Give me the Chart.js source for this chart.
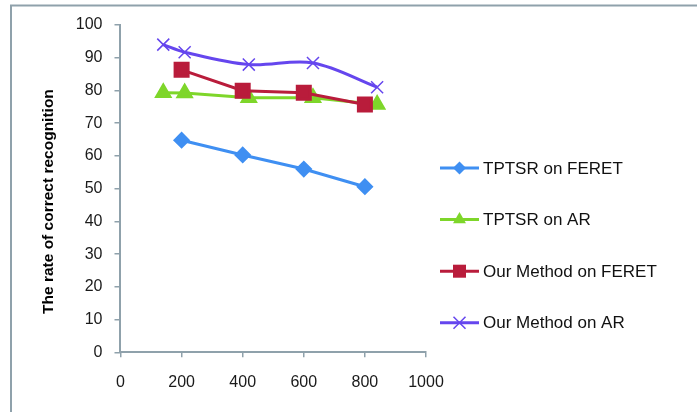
<!DOCTYPE html>
<html>
<head>
<meta charset="utf-8">
<script src="https://cdn.jsdelivr.net/npm/chart.js@4.4.1/dist/chart.umd.min.js"></script>
<style>
  html, body { margin: 0; padding: 0; background: #fff; }
  #wrap { width: 697px; height: 412px; position: relative; }
</style>
</head>
<body>
<div id="wrap"><canvas id="rateChart"></canvas></div>
<script>
// values
const seriesNames = ["TPTSR on FERET", "TPTSR on AR", "Our Method on FERET", "Our Method on AR"];
const feretX = [200, 400, 600, 800];
const tptsrFeret = [64.8, 60.3, 56.0, 50.6];
const arX = [140, 210, 420, 630, 840];
const tptsrAr = [79.3, 79.2, 77.8, 77.8, 75.7];
const oursFeret = [86.3, 79.9, 79.3, 75.7];
const oursAr = [94.0, 91.7, 87.9, 88.4, 81.0];
const xTicks = [0, 200, 400, 600, 800, 1000];
const yTicks = [0, 10, 20, 30, 40, 50, 60, 70, 80, 90, 100];

const axisColor = "#8fa1ab";
const fontFam = "'Liberation Sans', Arial, sans-serif";

function pts(xs, ys) {
    return xs.map((x, i) => ({ x: x, y: ys[i] }));
}

// little marker painter used by the legend
function drawMarker(ctx, style, x, y, r, color) {
    ctx.save();
    ctx.fillStyle = color;
    ctx.strokeStyle = color;
    ctx.beginPath();
    if (style === "rectRot") {
        ctx.moveTo(x, y - r); ctx.lineTo(x + r, y); ctx.lineTo(x, y + r); ctx.lineTo(x - r, y);
        ctx.closePath(); ctx.fill();
    } else if (style === "triangle") {
        const w = r * Math.sin(Math.PI / 3);
        ctx.moveTo(x, y - r); ctx.lineTo(x + w, y + r / 2); ctx.lineTo(x - w, y + r / 2);
        ctx.closePath(); ctx.fill();
    } else if (style === "rect") {
        const s = r * Math.SQRT1_2;
        ctx.rect(x - s, y - s, 2 * s, 2 * s); ctx.fill();
    } else if (style === "crossRot") {
        const s = r * Math.SQRT1_2;
        ctx.lineWidth = 1.5;
        ctx.moveTo(x - s, y - s); ctx.lineTo(x + s, y + s);
        ctx.moveTo(x + s, y - s); ctx.lineTo(x - s, y + s);
        ctx.stroke();
    }
    ctx.restore();
}

const sideLegend = {
    id: "sideLegend",
    afterDraw(chart) {
        const ctx = chart.ctx;
        chart.data.datasets.forEach((ds, i) => {
            const y = 168 + i * 51.6;
            ctx.save();
            ctx.strokeStyle = ds.borderColor;
            ctx.lineWidth = 3;
            ctx.beginPath();
            ctx.moveTo(440, y);
            ctx.lineTo(479, y);
            ctx.stroke();
            ctx.restore();
            drawMarker(ctx, ds.pointStyle, 459.5, y, ds.pointRadius, ds.borderColor);
            ctx.save();
            ctx.fillStyle = "#111";
            ctx.font = "17px " + fontFam;
            ctx.textBaseline = "middle";
            ctx.fillText(seriesNames[i], 483, y + 1);
            ctx.restore();
        });
    }
};

const frame = {
    id: "frame",
    beforeDraw(chart) {
        const ctx = chart.ctx;
        ctx.save();
        ctx.strokeStyle = axisColor;
        ctx.lineWidth = 2;
        ctx.beginPath();
        ctx.moveTo(11, 412);
        ctx.lineTo(11, 5.5);
        ctx.lineTo(697, 5.5);
        ctx.stroke();
        ctx.restore();
    }
};

new Chart(document.getElementById("rateChart"), {
    type: "line",
    data: {
        datasets: [
            {
                label: seriesNames[0], data: pts(feretX, tptsrFeret),
                borderColor: "#3f8ff2", backgroundColor: "#3f8ff2",
                pointStyle: "rectRot", pointRadius: 6.5, borderWidth: 3, order: 4
            },
            {
                label: seriesNames[1], data: pts(arX, tptsrAr),
                borderColor: "#7ed62a", backgroundColor: "#7ed62a",
                pointStyle: "triangle", pointRadius: 7.5, borderWidth: 3, order: 3
            },
            {
                label: seriesNames[2], data: pts(feretX, oursFeret),
                borderColor: "#b91c3b", backgroundColor: "#b91c3b",
                pointStyle: "rect", pointRadius: 9.2, borderWidth: 3, order: 2
            },
            {
                label: seriesNames[3], data: pts(arX, oursAr),
                borderColor: "#6546ee", backgroundColor: "#6546ee",
                pointStyle: "crossRot", pointRadius: 8.5, borderWidth: 3,
                pointBorderWidth: 1.5, tension: 0.35, order: 1
            }
        ]
    },
    options: {
        responsive: true,
        maintainAspectRatio: false,
        animation: false,
        layout: { padding: { left: 39.5, top: 25, right: 271, bottom: 4.5 } },
        plugins: {
            legend: { display: false },
            tooltip: { enabled: false }
        },
        scales: {
            x: {
                type: "linear",
                min: 0, max: 1000,
                afterBuildTicks: (axis) => { axis.ticks = xTicks.map(v => ({ value: v })); },
                grid: { display: true, drawOnChartArea: false, drawTicks: true, tickLength: 5, color: axisColor, lineWidth: 1.5 },
                border: { color: axisColor, width: 2 },
                ticks: {
                    color: "#1a1a1a", padding: 15.5, maxRotation: 0,
                    font: { family: fontFam, size: 16 },
                    callback: (v) => String(v)
                }
            },
            y: {
                min: 0, max: 100,
                afterBuildTicks: (axis) => { axis.ticks = yTicks.map(v => ({ value: v })); },
                grid: { display: true, drawOnChartArea: false, drawTicks: true, tickLength: 6, color: axisColor, lineWidth: 1.5 },
                border: { color: axisColor, width: 2 },
                ticks: { color: "#1a1a1a", padding: 12, font: { family: fontFam, size: 16 } },
                title: {
                    display: true, text: "The rate of correct recognition      ", color: "#000",
                    font: { family: fontFam, size: 15.5, weight: "bold" },
                    padding: { top: 0, bottom: 5.7 }
                }
            }
        }
    },
    plugins: [frame, sideLegend]
});
</script>
</body>
</html>
